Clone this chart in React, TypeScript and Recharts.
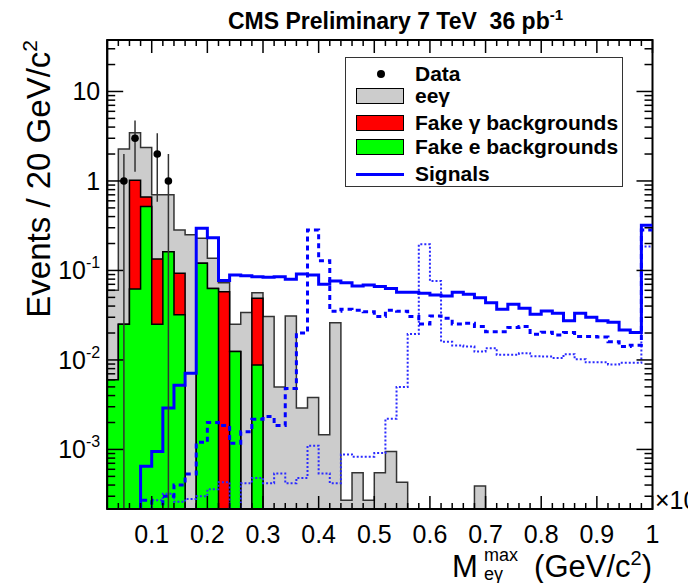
import React from 'react';
import { ComposedChart, Area, Line, Scatter, ErrorBar, XAxis, YAxis, Legend } from 'recharts';

const FONT = '"Liberation Sans", Arial, Helvetica, sans-serif';

// 20 GeV/c^2 bins, lower edges in units of 10^3 GeV/c^2
const binLow = [0.02, 0.04, 0.06, 0.08, 0.10, 0.12, 0.14, 0.16, 0.18, 0.20, 0.22, 0.24, 0.26, 0.28, 0.30, 0.32, 0.34, 0.36, 0.38, 0.40, 0.42, 0.44, 0.46, 0.48, 0.50, 0.52, 0.54, 0.56, 0.58, 0.60, 0.62, 0.64, 0.66, 0.68, 0.70, 0.72, 0.74, 0.76, 0.78, 0.80, 0.82, 0.84, 0.86, 0.88, 0.90, 0.92, 0.94, 0.96, 0.98];
const xEnd = 1.0;

// background components (stacked: fake e at bottom, fake gamma, then ee gamma)
const eeGamma = [0.054, 2.255, 2.44, 1.70, 0.566, 0.538, 0.191, 0.25, 0.109, 0.074, 0.015, 0.0126, 0.034, 0.0075, 0.0305, 0.005, 0.031, 0.0029, 0.0038, 0.00146, 0.026, 0.00027, 0.00055, 0.00027, 0.00055, 0.00095, 0.00043, 0, 0, 0, 0, 0, 0, 0.00039, 0, 0, 0, 0, 0, 0, 0, 0, 0, 0, 0, 0, 0, 0, 0];
const fakeGamma = [0, 0, 0.958, 0.14, 0.109, 0, 0.061, 0, 0, 0, 0.058, 0, 0, 0.0402, 0, 0, 0, 0, 0, 0, 0, 0, 0, 0, 0, 0, 0, 0, 0, 0, 0, 0, 0, 0, 0, 0, 0, 0, 0, 0, 0, 0, 0, 0, 0, 0, 0, 0, 0];
const fakeE = [0.006, 0.025, 0.062, 0.52, 0.025, 0.162, 0.032, 0, 0.12, 0.063, 0, 0.0124, 0, 0.0088, 0, 0, 0, 0, 0, 0, 0, 0, 0, 0, 0, 0, 0, 0, 0, 0, 0, 0, 0, 0, 0, 0, 0, 0, 0, 0, 0, 0, 0, 0, 0, 0, 0, 0, 0];

// signal samples
const sigSolid = [0, 0, 0, 0.00065, 0.00095, 0.0029, 0.0052, 0.0071, 0.296, 0.232, 0.077, 0.089, 0.087, 0.085, 0.084, 0.085, 0.080, 0.091, 0.089, 0.070, 0.076, 0.073, 0.067, 0.069, 0.066, 0.063, 0.057, 0.057, 0.0556, 0.0532, 0.0519, 0.057, 0.0542, 0.0497, 0.0437, 0.0368, 0.0419, 0.0378, 0.0324, 0.0353, 0.0333, 0.0275, 0.0333, 0.030, 0.0275, 0.0264, 0.0216, 0.0202, 0.32];
const sigDashed = [0, 0, 0, 0.00027, 0, 0.0003, 0.0004, 0.00053, 0.0012, 0.002, 0.00185, 0.00117, 0.00158, 0.00217, 0.00233, 0.00185, 0.0048, 0.02, 0.284, 0.128, 0.035, 0.0368, 0.036, 0.0345, 0.0305, 0.036, 0.035, 0.0305, 0.0252, 0.031, 0.0292, 0.0252, 0.0257, 0.0236, 0.0207, 0.0207, 0.023, 0.0236, 0.0194, 0.0204, 0.019, 0.0202, 0.0183, 0.0183, 0.018, 0.016, 0.0141, 0.0146, 0.284];
const sigDotted = [0, 0, 0, 0, 0.00027, 0.00032, 0.00026, 0.00028, 0.0003, 0.00036, 0.00043, 0, 0.00042, 0.00048, 0.00042, 0.00054, 0.00042, 0.00048, 0.0011, 0.00054, 0.00042, 0.00088, 0.00083, 0.00083, 0.00091, 0.0022, 0.005, 0.0195, 0.196, 0.076, 0.016, 0.0145, 0.0141, 0.0124, 0.0135, 0.0114, 0.0114, 0.0119, 0.011, 0.0109, 0.0105, 0.0116, 0.0102, 0.0094, 0.0094, 0.0089, 0.0093, 0.0093, 0.185];

// data
const dataX = [0.05, 0.07, 0.11, 0.13];
const dataN = [1, 3, 2, 1];

// axes
const Y_MIN = 0.000216;
const Y_MAX = 37.6;
const FLOOR = 1e-7;
const xTicks = [0.04, 0.06, 0.08, 0.1, 0.12, 0.14, 0.16, 0.18, 0.2, 0.22, 0.24, 0.26, 0.28, 0.3, 0.32, 0.34, 0.36, 0.38, 0.4, 0.42, 0.44, 0.46, 0.48, 0.5, 0.52, 0.54, 0.56, 0.58, 0.6, 0.62, 0.64, 0.66, 0.68, 0.7, 0.72, 0.74, 0.76, 0.78, 0.8, 0.82, 0.84, 0.86, 0.88, 0.9, 0.92, 0.94, 0.96, 0.98, 1.0];
const xMajorLabels = ['0.1', '0.2', '0.3', '0.4', '0.5', '0.6', '0.7', '0.8', '0.9', '1'];
const yDecades = [1e-4, 1e-3, 1e-2, 1e-1, 1, 10];
const yMantissas = [1, 2, 3, 4, 5, 6, 7, 8, 9];
const yTicks = yDecades.flatMap((d) => yMantissas.map((m) => m * d)).filter((v) => v >= Y_MIN && v <= Y_MAX);
const yMajorLabels: { v: number; base: string; exp: string }[] = [
  { v: 10, base: '10', exp: '' },
  { v: 1, base: '1', exp: '' },
  { v: 0.1, base: '10', exp: '-1' },
  { v: 0.01, base: '10', exp: '-2' },
  { v: 0.001, base: '10', exp: '-3' },
];

const legendItems = [
  { label: 'Data', kind: 'dot', color: '#000000', cy: 16 },
  { label: 'ee\u03b3', kind: 'box', color: '#cccccc', cy: 38 },
  { label: 'Fake \u03b3 backgrounds', kind: 'box', color: '#ff0000', cy: 65 },
  { label: 'Fake e backgrounds', kind: 'box', color: '#00ff00', cy: 89 },
  { label: 'Signals', kind: 'line', color: '#0000ff', cy: 116 },
];

// layout
const W = 688;
const H = 583;
const Y_AXIS_W = 50;
const X_AXIS_H = 30;
const MARGIN = { top: 40, right: 35.5, bottom: 44, left: 57.2 };
const PLOT_LEFT = MARGIN.left + Y_AXIS_W;
const PLOT_TOP = MARGIN.top;
const PLOT_RIGHT = W - MARGIN.right;
const PLOT_BOTTOM = H - MARGIN.bottom - X_AXIS_H;

const pos = (v: number) => (v > 0 ? v : FLOOR);
const chartData = binLow.map((x, i) => {
  const g = fakeE[i];
  const r = g + fakeGamma[i];
  const t = r + eeGamma[i];
  return { x, green: pos(g), redTop: pos(r), total: pos(t), solid: pos(sigSolid[i]), dashed: pos(sigDashed[i]), dotted: pos(sigDotted[i]) };
});
chartData.push({ ...chartData[chartData.length - 1], x: xEnd });

// sqrt(N) errors; the lower bar stops at the bottom of the axis range
const dataPoints = dataX.map((x, i) => ({
  x,
  y: dataN[i],
  err: [Math.min(Math.sqrt(dataN[i]), dataN[i] - Y_MIN), Math.sqrt(dataN[i])],
}));

const isMajorX = (v: number) => Math.abs(v * 10 - Math.round(v * 10)) < 1e-6;
const findMajorY = (v: number) => yMajorLabels.find((m) => Math.abs(v / m.v - 1) < 1e-6);

// bottom tick + mirrored tick on the top frame
const XTick = (props: any) => {
  const { x, y, payload } = props;
  const v = payload.value;
  const major = isMajorX(v);
  const len = major ? 13 : 6;
  const label = major ? xMajorLabels[Math.round(v * 10) - 1] : null;
  return (
    <g>
      <line x1={x} y1={y} x2={x} y2={y - len} stroke="#000" strokeWidth={1.5} />
      <line x1={x} y1={PLOT_TOP} x2={x} y2={PLOT_TOP + len} stroke="#000" strokeWidth={1.5} />
      {label && (
        <text x={x} y={y + 34} textAnchor="middle" fontSize={25} fontFamily={FONT} fill="#000">
          {label}
        </text>
      )}
    </g>
  );
};

// left tick + mirrored tick on the right frame
const YTick = (props: any) => {
  const { x, y, payload } = props;
  const m = findMajorY(payload.value);
  const len = m ? 16 : 8;
  return (
    <g>
      <line x1={x} y1={y} x2={x + len} y2={y} stroke="#000" strokeWidth={1.5} />
      <line x1={PLOT_RIGHT} y1={y} x2={PLOT_RIGHT - len} y2={y} stroke="#000" strokeWidth={1.5} />
      {m && (
        <text x={x - 7} y={y + 9} textAnchor="end" fontSize={25} fontFamily={FONT} fill="#000">
          {m.base}
          {m.exp && (
            <tspan dy={-11} fontSize={16}>
              {m.exp}
            </tspan>
          )}
        </text>
      )}
    </g>
  );
};

const LegendBox = () => (
  <div style={{ position: 'relative', width: 278, height: 130, boxSizing: 'border-box', border: '1.5px solid #333', background: '#fff', fontFamily: FONT, fontWeight: 'bold', fontSize: 21, color: '#000' }}>
    {legendItems.map((it) => (
      <React.Fragment key={it.label}>
        {it.kind === 'dot' && <div style={{ position: 'absolute', left: 31, top: it.cy - 4, width: 8, height: 8, borderRadius: 4, background: it.color }} />}
        {it.kind === 'box' && (
          <div style={{ position: 'absolute', left: 10, top: it.cy - 8, width: 48, height: 16, boxSizing: 'border-box', border: '1.5px solid #000', background: it.color }} />
        )}
        {it.kind === 'line' && <div style={{ position: 'absolute', left: 10, top: it.cy - 1.5, width: 48, height: 3, background: it.color }} />}
        <div style={{ position: 'absolute', left: 69, top: it.cy - 13, lineHeight: '26px', whiteSpace: 'nowrap' }}>{it.label}</div>
      </React.Fragment>
    ))}
  </div>
);

export default function App() {
  return (
    <div style={{ position: 'absolute', left: 0, top: 0, width: W, height: H, background: '#fff' }}>
      <ComposedChart width={W} height={H} data={chartData} margin={MARGIN}>
        <XAxis dataKey="x" type="number" domain={[0.02, xEnd]} allowDataOverflow ticks={xTicks} interval={0} tick={<XTick />} tickLine={false} tickSize={0} tickMargin={0} axisLine={{ stroke: '#000', strokeWidth: 2 }} height={X_AXIS_H} />
        <YAxis type="number" scale="log" domain={[Y_MIN, Y_MAX]} allowDataOverflow ticks={yTicks} interval={0} tick={<YTick />} tickLine={false} tickSize={0} tickMargin={0} axisLine={{ stroke: '#000', strokeWidth: 2 }} width={Y_AXIS_W} />
        <Area type="stepAfter" dataKey="total" baseValue={Y_MIN} fill="#cccccc" fillOpacity={1} stroke="#333333" strokeWidth={1.5} isAnimationActive={false} dot={false} activeDot={false} />
        <Area type="stepAfter" dataKey="redTop" baseValue={Y_MIN} fill="#ff0000" fillOpacity={1} stroke="#000000" strokeWidth={1.5} isAnimationActive={false} dot={false} activeDot={false} />
        <Area type="stepAfter" dataKey="green" baseValue={Y_MIN} fill="#00ff00" fillOpacity={1} stroke="#000000" strokeWidth={1.5} isAnimationActive={false} dot={false} activeDot={false} />
        <Line type="stepAfter" dataKey="dotted" stroke="#2a2aff" strokeWidth={2} strokeDasharray="2 2" dot={false} activeDot={false} isAnimationActive={false} />
        <Line type="stepAfter" dataKey="dashed" stroke="#0000ff" strokeWidth={3} strokeDasharray="5 4" dot={false} activeDot={false} isAnimationActive={false} />
        <Line type="stepAfter" dataKey="solid" stroke="#0000ff" strokeWidth={3} dot={false} activeDot={false} isAnimationActive={false} />
        <Scatter data={dataPoints} dataKey="y" isAnimationActive={false} shape={(p: any) => <circle cx={p.cx} cy={p.cy} r={3.8} fill="#000" />}>
          <ErrorBar dataKey="err" direction="y" width={0} stroke="#333" strokeWidth={1.5} />
        </Scatter>
        <Legend layout="horizontal" verticalAlign="middle" align="center" wrapperStyle={{ left: 345, top: 57, width: 278, height: 130 }} content={() => <LegendBox />} />
        {/* plot frame */}
        <rect x={PLOT_LEFT} y={PLOT_TOP} width={PLOT_RIGHT - PLOT_LEFT} height={PLOT_BOTTOM - PLOT_TOP} fill="none" stroke="#000" strokeWidth={2} />
        <text x={228} y={29} fontFamily={FONT} fontWeight="bold" fontSize={23} fill="#000">
          {'CMS Preliminary 7 TeV\u00a0\u00a036 pb'}
          <tspan dy={-9} fontSize={15}>-1</tspan>
        </text>
        <text transform="rotate(-90)" x={-40} y={50} textAnchor="end" fontFamily={FONT} fontSize={33} fill="#000">
          Events / 20 GeV/c
          <tspan dy={-13} fontSize={21}>2</tspan>
        </text>
        <text x={452} y={577} fontFamily={FONT} fontSize={31} fill="#000">M</text>
        <text x={484} y={561} fontFamily={FONT} fontSize={18} fill="#000">max</text>
        <text x={484} y={580} fontFamily={FONT} fontSize={18} fill="#000">e{'\u03b3'}</text>
        <text x={652} y={577} textAnchor="end" fontFamily={FONT} fontSize={31} fill="#000">
          (GeV/c
          <tspan dy={-12} fontSize={20}>2</tspan>
          <tspan dy={12}>)</tspan>
        </text>
        <text x={655} y={509} fontFamily={FONT} fontSize={25} fill="#000">
          {'\u00d710'}
          <tspan dy={-10} fontSize={16}>3</tspan>
        </text>
      </ComposedChart>
    </div>
  );
}
